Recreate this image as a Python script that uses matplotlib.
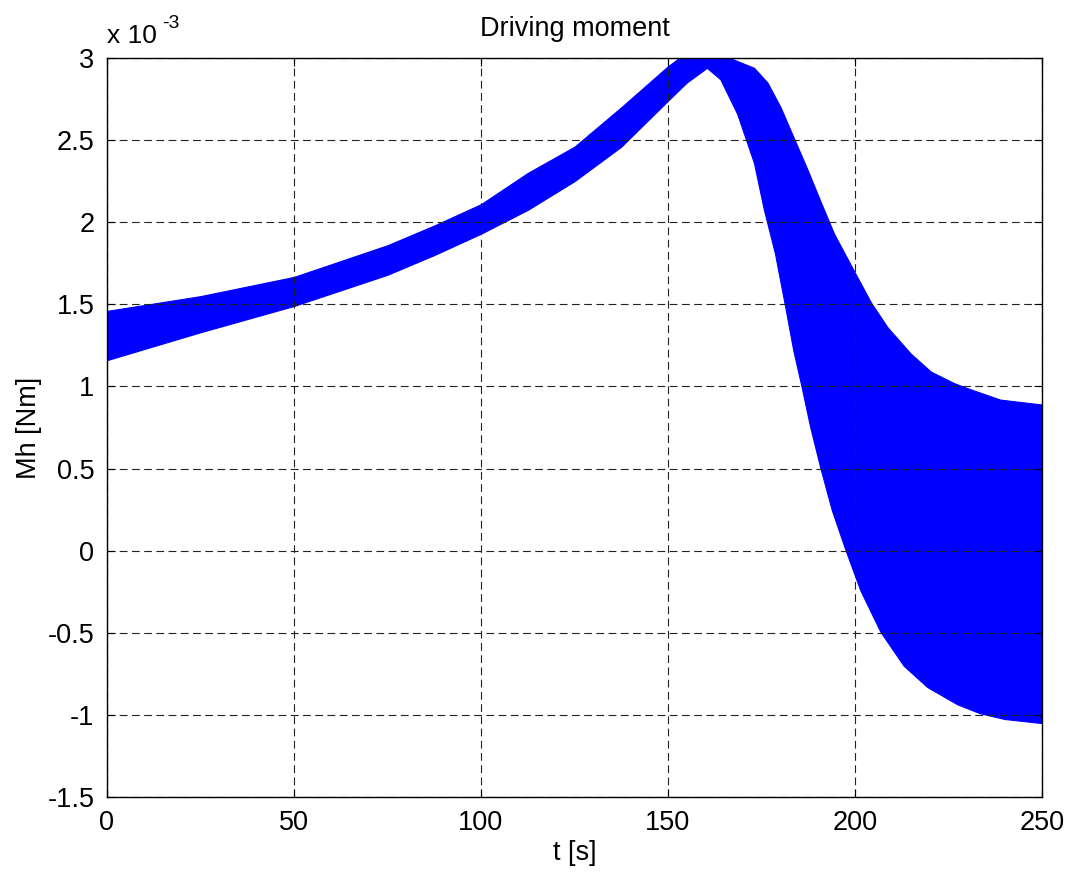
import numpy as np
import matplotlib.pyplot as plt
from matplotlib.ticker import FuncFormatter

# envelope of the driving moment, values in units of 1e-3 Nm
t_upper = [0, 25, 50, 75, 87.5, 100, 112.5, 125, 137.5, 150, 153, 155, 160, 164, 167.6,
           173, 176.6, 180.1, 183.7, 187.3, 190.9, 194.4, 199.8, 204.3, 208.7, 214.9,
           220.3, 226.5, 230, 238.8, 250]
mh_upper = [1.46, 1.55, 1.667, 1.86, 1.98, 2.11, 2.30, 2.46, 2.70, 2.95, 3.0, 3.02, 3.04, 3.03, 2.99,
            2.94, 2.85, 2.70, 2.51, 2.32, 2.12, 1.93, 1.70, 1.51, 1.36, 1.20,
            1.09, 1.02, 0.99, 0.92, 0.89]

t_lower = [0, 25, 50, 75, 87.5, 100, 112.5, 125, 137.5, 150, 155, 160.4, 164, 168.5, 173,
           175.6, 178.6, 181.3, 183.5, 185.7, 188, 190.7, 193.8, 197.4, 201.4, 206.8,
           213, 219.3, 227.3, 233.4, 240, 250]
mh_lower = [1.16, 1.33, 1.49, 1.68, 1.80, 1.93, 2.075, 2.25, 2.46, 2.74, 2.85, 2.94, 2.87, 2.66, 2.36,
            2.08, 1.81, 1.49, 1.22, 1.0, 0.755, 0.507, 0.247, 0.008, -0.24, -0.494,
            -0.70, -0.83, -0.935, -0.99, -1.025, -1.05]

x_ticks = [0, 50, 100, 150, 200, 250]
y_ticks = [-1.5, -1, -0.5, 0, 0.5, 1, 1.5, 2, 2.5, 3]

plt.rcParams['font.family'] = ['Liberation Sans', 'DejaVu Sans']

fig = plt.figure(figsize=(10.72, 8.77), dpi=100)
ax = fig.add_axes([0.0998, 0.0912, 0.8722, 0.8427])

# both envelopes on one time base for the band
t_all = sorted(set(t_upper) | set(t_lower))
up = np.interp(t_all, t_upper, mh_upper)
lo = np.interp(t_all, t_lower, mh_lower)
ax.fill_between(t_all, lo, up, color='#0000ff', linewidth=0.8, edgecolor='#0000ff', zorder=2)

ax.set_xlim(0, 250)
ax.set_ylim(-1.5, 3)
ax.set_xticks(x_ticks)
ax.set_yticks(y_ticks)
ax.yaxis.set_major_formatter(FuncFormatter(lambda v, p: '%g' % v))
ax.tick_params(direction='in', length=6, width=0.8, labelsize=19.5, top=True, right=True, pad=9)
ax.grid(True, color='#222222', linestyle=(0, (7, 4)), linewidth=0.8, zorder=3)
ax.set_axisbelow(False)
for s in ax.spines.values():
    s.set_linewidth(1.0)
    s.set_zorder(4)

ax.set_title('Driving moment', fontsize=19.5, pad=16)
ax.set_xlabel('t [s]', fontsize=19.5, labelpad=3)
ax.set_ylabel('Mh [Nm]', fontsize=19.5, labelpad=4)
fig.text(107 / 1072, 1 - 43 / 877, 'x 10', fontsize=19, ha='left', va='baseline')
fig.text(162 / 1072, 1 - 28 / 877, '-3', fontsize=14, ha='left', va='baseline')

fig.savefig('out.png', dpi=100)
